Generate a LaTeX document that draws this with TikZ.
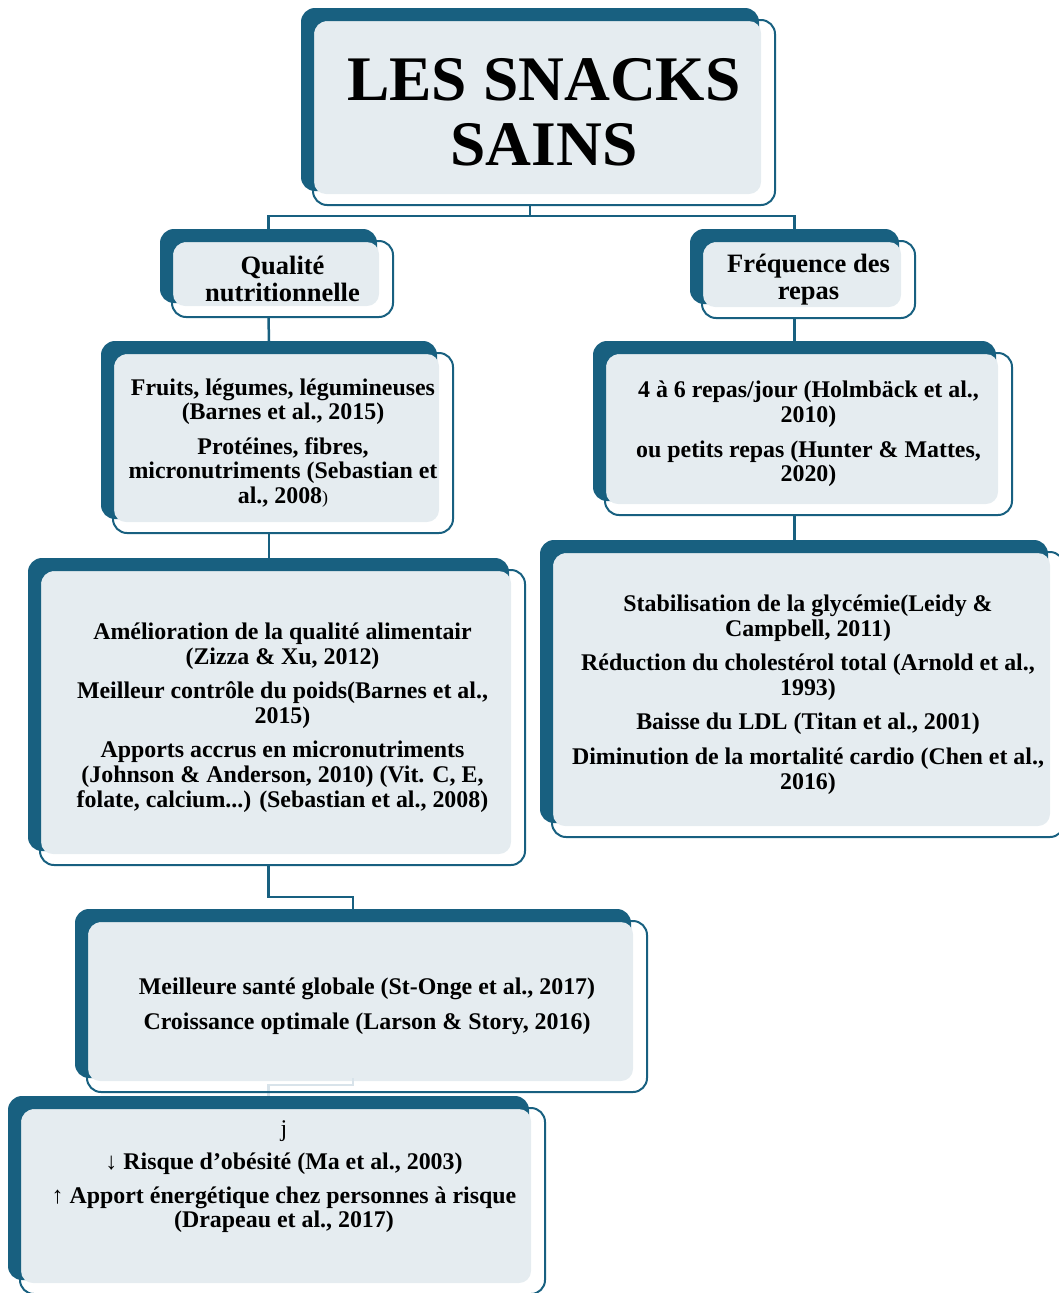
\documentclass[tikz,border=0pt]{standalone}
\usepackage{fontspec}
\setmainfont{Liberation Serif}
\usetikzlibrary{positioning, calc, backgrounds}
\definecolor{snackdark}{RGB}{24, 96, 128}
\definecolor{snacklight}{RGB}{229, 236, 240}
\definecolor{snackfaint}{RGB}{216, 227, 234}

% dark tab and pale face behind each framed box
\newcommand{\snacklayers}[1]{%
  \begin{scope}[on background layer]
    \fill[snackdark, rounded corners=14pt] ($(#1.north west)+(-11,-11)$) rectangle ($(#1.south east)+(-17,-15)$);
    \fill[snacklight, rounded corners=12pt] ($(#1.north west)+(2,2)$) rectangle ($(#1.south east)+(-15,-12)$);
  \end{scope}
  \coordinate (#1-top) at ($(#1.north)+(-14,-11)$);
  \coordinate (#1-bot) at ($(#1.south)+(-14,0)$);
}

\begin{document}
\begin{tikzpicture}[x=1pt, y=-1pt,
    snackbox/.style={draw=snackdark, line width=2pt, rounded corners=14pt,
        align=center, inner sep=0pt,
        font=\fontsize{23.9}{24.6}\selectfont\bfseries},
    headbox/.style={snackbox, font=\fontsize{26.5}{27.5}\selectfont\bfseries},
    link/.style={draw=snackdark, line width=2.5pt},
    faintlink/.style={draw=snackfaint, line width=2.5pt}
]
    \useasboundingbox (0,0) rectangle (1059,1293);

    \node[snackbox, minimum width=462pt, minimum height=185pt,
          font=\fontsize{63.5}{65}\selectfont\bfseries] (title) at (544,112.5) {LES SNACKS\\SAINS};
    \snacklayers{title}

    \node[headbox, minimum width=221pt, minimum height=76pt] (qual) at (282.5,279) {Qualité\\nutritionnelle};
    \snacklayers{qual}

    \node[headbox, minimum width=213pt, minimum height=77pt] (freq) at (808.5,279.5) {Fréquence des\\repas};
    \snacklayers{freq}

    \node[snackbox, minimum width=340pt, minimum height=180pt] (fruit) at (283,443)
        {Fruits, légumes, légumineuses\\(Barnes et al., 2015)\\[10pt]
         Protéines, fibres,\\micronutriments (Sebastian et\\al., 2008{\fontsize{18}{18}\selectfont\mdseries)}};
    \snacklayers{fruit}

    \node[snackbox, minimum width=407pt, minimum height=162pt] (repas) at (808.5,434)
        {4 à 6 repas/jour (Holmbäck et al.,\\2010)\\[10pt]
         ou petits repas (Hunter \& Mattes,\\2020)};
    \snacklayers{repas}

    \node[snackbox, minimum width=485pt, minimum height=295pt] (amel) at (282.5,717.5)
        {Amélioration de la qualité alimentair\\(Zizza \& Xu, 2012)\\[10pt]
         Meilleur contrôle du poids(Barnes et al.,\\2015)\\[10pt]
         Apports accrus en micronutriments\\(Johnson \& Anderson, 2010) (Vit. C, E,\\folate, calcium...) (Sebastian et al., 2008)};
    \snacklayers{amel}

    \node[snackbox, minimum width=512pt, minimum height=285pt] (stab) at (808,694.5)
        {Stabilisation de la glycémie(Leidy \&\\Campbell, 2011)\\[10pt]
         Réduction du cholestérol total (Arnold et al.,\\1993)\\[10pt]
         Baisse du LDL (Titan et al., 2001)\\[10pt]
         Diminution de la mortalité cardio (Chen et al.,\\2016)};
    \snacklayers{stab}

    \node[snackbox, minimum width=560pt, minimum height=171pt] (sante) at (367,1006.5)
        {Meilleure santé globale (St-Onge et al., 2017)\\[10pt]
         Croissance optimale (Larson \& Story, 2016)};
    \snacklayers{sante}

    \node[snackbox, minimum width=525pt, minimum height=186pt] (risk) at (282.5,1201) {};
    \snacklayers{risk}
    \node[align=center, anchor=north, inner sep=0pt,
          font=\fontsize{23.9}{24.6}\selectfont\bfseries] (risktxt) at ($(risk.north)+(1.5,13)$)
        {{\mdseries j}\\[9pt]
         {\mdseries ↓} Risque d’obésité (Ma et al., 2003)\\[9pt]
         {\mdseries ↑} Apport énergétique chez personnes à risque\\(Drapeau et al., 2017)};

    % connectors
    \draw[link] (title-bot) -- ++(0,10) coordinate (bus);
    \draw[link] (qual-top) |- (bus) -| (freq-top);
    \draw[link] (qual-bot) -- (fruit-top);
    \draw[link] (fruit-bot) -- (fruit-bot |- amel-top);
    \draw[link] (freq-bot) -- (repas-top);
    \draw[link] (repas-bot) -- (repas-bot |- stab-top);
    \draw[link] (amel-bot) -- ++(0,31) -| (sante-top);
    \begin{scope}[on background layer]
        \draw[faintlink] ($(sante-bot)+(0,-15)$) -- ++(0,7) -| (risk-top);
    \end{scope}
\end{tikzpicture}
\end{document}
